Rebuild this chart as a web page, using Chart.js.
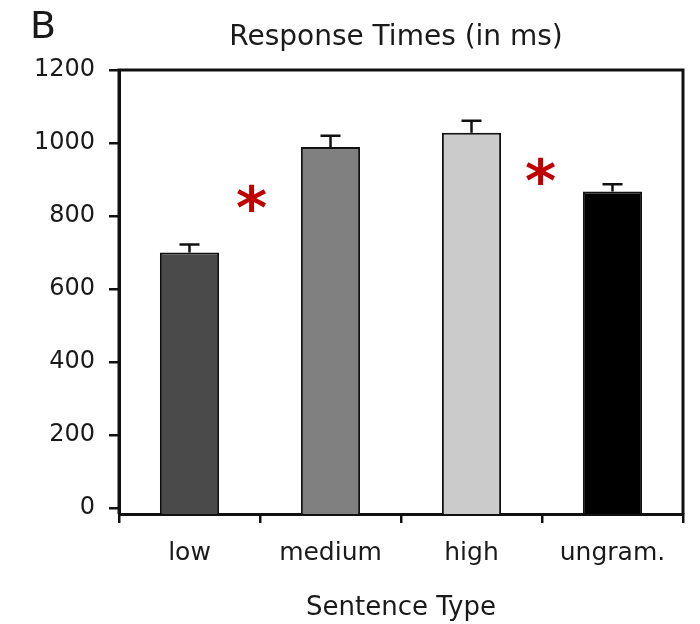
<!DOCTYPE html>
<html>
<head>
<meta charset="utf-8">
<script src="https://cdn.jsdelivr.net/npm/chart.js@4.4.1/dist/chart.umd.min.js"></script>
<style>
  html, body { margin: 0; padding: 0; background: #fff; overflow: hidden; }
  #wrap { width: 700px; height: 624px; }
</style>
</head>
<body>
<div id="wrap"><canvas id="myChart" width="700" height="624"></canvas></div>
<script>
const categories = ['low', 'medium', 'high', 'ungram.'];
const meanTimes = [700, 989, 1028, 867];
const errors = [22, 31, 33, 20];
const barColors = ['#4a4a4a', '#808080', '#cbcbcb', '#000000'];
const yTicks = [0, 200, 400, 600, 800, 1000, 1200];
// significance stars: x in category index units, y in ms
const starX = [0.44, 2.49];
const starY = [849, 924];

const FONT = '"DejaVu Sans", "Liberation Sans", sans-serif';
const Y_MIN = -16;

const errorBarPlugin = {
  id: 'errorBars',
  afterDatasetsDraw(chart) {
    const ctx = chart.ctx;
    const x = chart.scales.x;
    const y = chart.scales.y;
    ctx.save();
    ctx.strokeStyle = '#111';
    ctx.lineWidth = 2.5;
    meanTimes.forEach((v, i) => {
      const cx = x.getPixelForValue(i);
      const top = y.getPixelForValue(v + errors[i]);
      const bot = y.getPixelForValue(v);
      ctx.beginPath();
      ctx.moveTo(cx, bot);
      ctx.lineTo(cx, top);
      ctx.moveTo(cx - 10, top);
      ctx.lineTo(cx + 10, top);
      ctx.stroke();
    });
    ctx.restore();
  }
};

const decorPlugin = {
  id: 'decor',
  afterDraw(chart) {
    const ctx = chart.ctx;
    const a = chart.chartArea;
    const x = chart.scales.x;
    const y = chart.scales.y;
    ctx.save();
    // frame
    ctx.strokeStyle = '#111';
    ctx.lineWidth = 3;
    ctx.beginPath();
    ctx.moveTo(a.left, a.bottom);
    ctx.lineTo(a.left, a.top);
    ctx.lineTo(a.right, a.top);
    ctx.lineTo(a.right, a.bottom);
    ctx.stroke();

    // titles
    ctx.fillStyle = '#1a1a1a';
    ctx.textBaseline = 'alphabetic';
    ctx.font = '38px ' + FONT;
    ctx.textAlign = 'left';
    ctx.fillText('B', 30, 38);
    ctx.font = '28px ' + FONT;
    ctx.textAlign = 'center';
    ctx.fillText('Response Times (in ms)', 396, 45);

    // stars, scaled so the glyph is about 28px tall
    ctx.fillStyle = '#c00000';
    ctx.textAlign = 'center';
    ctx.font = 'bold 100px ' + FONT;
    let m = ctx.measureText('*');
    const size = 100 * 28 / (m.actualBoundingBoxAscent + m.actualBoundingBoxDescent);
    ctx.font = 'bold ' + size + 'px ' + FONT;
    m = ctx.measureText('*');
    const off = (m.actualBoundingBoxAscent - m.actualBoundingBoxDescent) / 2;
    const dx = (m.actualBoundingBoxRight - m.actualBoundingBoxLeft) / 2;
    const step = x.getPixelForValue(1) - x.getPixelForValue(0);
    starX.forEach((sx, i) => {
      const px = x.getPixelForValue(0) + sx * step;
      const py = y.getPixelForValue(starY[i]);
      ctx.fillText('*', px - dx, py + off);
    });
    ctx.restore();
  }
};

const ctx = document.getElementById('myChart').getContext('2d');
new Chart(ctx, {
  type: 'bar',
  data: {
    labels: categories,
    datasets: [{
      label: 'Response Times',
      data: meanTimes,
      backgroundColor: barColors,
      borderColor: '#111',
      borderWidth: 2,
      base: Y_MIN,
      barPercentage: 0.42,
      categoryPercentage: 1
    }]
  },
  options: {
    responsive: false,
    animation: false,
    layout: { padding: { top: 70, right: 17, left: 0, bottom: 0 } },
    plugins: {
      legend: { display: false },
      tooltip: { enabled: false }
    },
    scales: {
      x: {
        grid: {
          offset: true,
          drawOnChartArea: false,
          drawTicks: true,
          tickLength: 9,
          color: '#111',
          lineWidth: 2.5
        },
        border: { display: true, color: '#111', width: 3 },
        ticks: {
          color: '#1a1a1a',
          padding: 15,
          font: { family: FONT, size: 25 }
        },
        title: {
          display: true,
          text: 'Sentence Type',
          color: '#1a1a1a',
          font: { family: FONT, size: 26 },
          padding: { top: 10, bottom: 0 }
        },
        afterFit(scale) { scale.height = 110; }
      },
      y: {
        min: Y_MIN,
        max: 1200,
        afterBuildTicks(scale) { scale.ticks = yTicks.map(v => ({ value: v })); },
        grid: {
          drawOnChartArea: false,
          drawTicks: true,
          tickLength: 10,
          color: '#111',
          lineWidth: 2.5
        },
        border: { display: true, color: '#111', width: 3 },
        ticks: {
          color: '#1a1a1a',
          padding: 14,
          font: { family: FONT, size: 24 },
          callback: v => String(v)
        },
        afterFit(scale) { scale.width = 119; }
      }
    }
  },
  plugins: [errorBarPlugin, decorPlugin]
});
</script>
</body>
</html>
